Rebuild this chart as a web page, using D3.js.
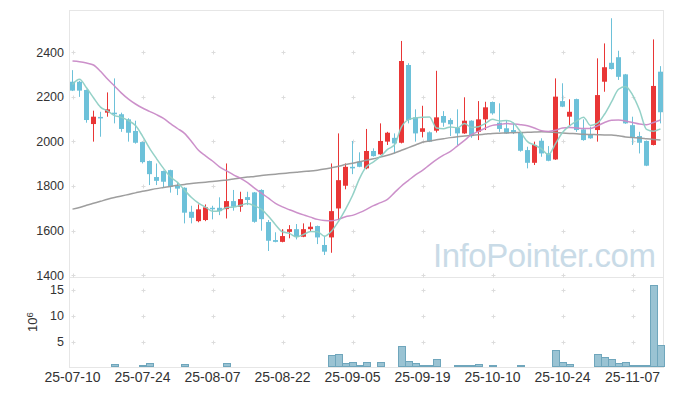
<!DOCTYPE html>
<html>
<head>
<meta charset="utf-8">
<script src="https://cdn.jsdelivr.net/npm/d3@7"></script>
<style>
  body { margin: 0; background: #fff; }
  svg { display: block; font-family: "Liberation Sans", Arial, sans-serif; }
</style>
</head>
<body>
<div id="chart"></div>
<script>
// trading days shown (yy-mm-dd)
var dates = [
  "25-07-10","25-07-11","25-07-14","25-07-15","25-07-16","25-07-17","25-07-18","25-07-21","25-07-22","25-07-23",
  "25-07-24","25-07-25","25-07-28","25-07-29","25-07-30","25-07-31","25-08-01","25-08-04","25-08-05","25-08-06",
  "25-08-07","25-08-08","25-08-11","25-08-12","25-08-13","25-08-14","25-08-18","25-08-19","25-08-20","25-08-21",
  "25-08-22","25-08-25","25-08-26","25-08-27","25-08-28","25-08-29","25-09-01","25-09-02","25-09-03","25-09-04",
  "25-09-05","25-09-08","25-09-09","25-09-10","25-09-11","25-09-12","25-09-15","25-09-16","25-09-17","25-09-18",
  "25-09-19","25-09-22","25-09-23","25-09-24","25-09-25","25-09-26","25-09-29","25-09-30","25-10-01","25-10-02",
  "25-10-10","25-10-13","25-10-14","25-10-15","25-10-16","25-10-17","25-10-20","25-10-21","25-10-22","25-10-23",
  "25-10-24","25-10-27","25-10-28","25-10-29","25-10-30","25-10-31","25-11-03","25-11-04","25-11-05","25-11-06",
  "25-11-07","25-11-10","25-11-11","25-11-12","25-11-13"
];

var open = [2268,2268,2231,2078,2110,2129,2129,2122,2099,2047,1997,1912,1840,1867,1871,1800,1792,1684,1642,1647,
  1702,1702,1696,1732,1707,1750,1771,1782,1638,1557,1549,1594,1606,1572,1606,1620,1535,1569,1699,1801,
  1886,1909,1879,1957,1942,1999,2016,1994,2343,2108,2043,2041,2048,2114,2096,2061,2036,2093,2043,2099,
  2177,2084,2059,2051,2041,1961,1904,2003,1946,1919,2181,2111,2190,2054,2029,2051,2268,2353,2378,2301,
  2073,2024,2002,1984,2313];
var high = [2320,2272,2233,2138,2133,2220,2283,2129,2104,2093,1999,1914,1901,1869,1873,1814,1794,1711,1717,1717,
  1711,1749,1901,1782,1774,1774,1773,1785,1647,1592,1606,1624,1629,1632,1637,1622,1576,1901,2036,1901,
  2002,1951,2056,1969,2081,2043,2036,2451,2351,2144,2160,2045,2317,2136,2104,2144,2198,2095,2181,2178,
  2179,2171,2096,2084,2043,1976,1999,2014,1979,2283,2261,2189,2192,2099,2066,2373,2440,2553,2407,2303,
  2111,2043,2004,2458,2338];
var low = [2226,2200,2084,1999,2021,2111,2081,2043,1999,1990,1901,1804,1804,1794,1770,1759,1632,1632,1637,1642,
  1650,1669,1654,1689,1684,1714,1635,1599,1508,1547,1547,1565,1560,1570,1594,1539,1490,1500,1647,1785,
  1853,1884,1875,1932,1940,1984,1946,1991,2081,1999,2018,1997,2040,2066,2024,1984,2034,2016,2006,2051,
  2120,2043,2034,2033,1954,1879,1894,1931,1911,1917,2154,2073,2043,2003,2012,1999,2223,2323,2276,2079,
  1984,1946,1889,1982,2081];
var close = [2228,2228,2096,2111,2106,2144,2122,2056,2039,1994,1907,1853,1823,1819,1796,1788,1680,1657,1695,1704,
  1697,1687,1732,1707,1741,1737,1639,1651,1554,1549,1575,1606,1572,1606,1617,1569,1505,1687,1826,1886,
  1879,1886,1957,1934,2002,2039,1991,2361,2096,2036,2059,1999,2108,2084,2077,2036,2093,2024,2099,2153,
  2126,2056,2036,2039,1958,1904,1984,1946,1913,2201,2156,2133,2051,2006,2014,2208,2333,2325,2290,2081,
  2016,1994,1891,2249,2131];

// volume, millions of shares
var volume = [0.05,0.05,0.05,0.05,0.05,0.05,0.45,0.05,0.05,0.05,0.35,0.6,0.05,0,0.05,0.05,0.4,0.05,0.05,0,
  0.05,0,0.6,0.05,0.05,0,0.05,0.05,0.05,0,0,0,0,0,0,0,0.05,2.2,2.5,0.6,
  0.8,0.35,0.8,0.05,0.8,0.05,0.05,3.9,1.0,0.6,0.35,0.35,1.5,0.05,0.05,0.3,0.3,0.3,0.55,0.05,
  0.35,0.05,0.05,0.05,0.3,0.05,0.05,0.05,0.05,3.2,0.8,0.4,0.05,0.05,0.05,2.5,1.75,1.4,0.65,0.8,
  0.35,0.35,0.35,15.8,4.25];

// moving averages as drawn
var ma5 = [2256,2279,2241,2196,2154,2137,2116,2108,2093,2071,2024,1970,1923,1879,1840,1816,1781,1748,1723,1705,
  1687,1688,1703,1705,1713,1721,1711,1695,1664,1626,1594,1587,1571,1582,1595,1594,1574,1597,1641,1695,
  1757,1833,1887,1908,1932,1964,1985,2065,2098,2105,2109,2110,2060,2057,2065,2061,2080,2063,2066,2081,
  2099,2092,2094,2082,2043,1999,1984,1966,1941,1990,2040,2070,2091,2109,2072,2082,2122,2177,2234,2247,
  2209,2141,2054,2046,2056];
var ma20 = [2361,2358,2352,2343,2315,2280,2249,2217,2190,2168,2150,2135,2120,2103,2080,2058,2036,2000,1960,1935,
  1912,1886,1868,1850,1834,1815,1790,1768,1745,1722,1706,1693,1681,1670,1660,1650,1645,1644,1650,1662,
  1668,1680,1695,1712,1725,1740,1770,1800,1825,1850,1870,1895,1918,1938,1955,1980,2005,2030,2045,2060,
  2072,2076,2080,2078,2075,2070,2060,2048,2045,2050,2060,2062,2060,2058,2058,2070,2085,2095,2096,2092,
  2085,2078,2075,2085,2096];
var ma60 = [1696,1703,1713,1722,1731,1740,1748,1755,1762,1769,1776,1782,1788,1793,1798,1803,1807,1811,1814,1817,
  1820,1823,1827,1831,1836,1840,1843,1847,1850,1853,1856,1859,1862,1865,1867,1871,1876,1882,1888,1896,
  1902,1909,1915,1922,1930,1938,1948,1960,1972,1984,1996,2002,2007,2012,2017,2021,2024,2027,2030,2033,
  2036,2037,2038,2039,2040,2041,2042,2043,2042,2040,2038,2036,2034,2032,2031,2030,2029,2029,2025,2020,
  2017,2015,2012,2009,2006];

var tickDates = ["25-07-10","25-07-24","25-08-07","25-08-22","25-09-05","25-09-19","25-10-10","25-10-24","25-11-07"];
var priceTicks = [1400,1600,1800,2000,2200,2400];
var volTicks = [5,10,15];

var width = 673, height = 396;
var plotL = 69, plotR = 664, priceTop = 10, priceBottom = 277.5, volBottom = 367.5;

var svg = d3.select("#chart").append("svg")
  .attr("width", width)
  .attr("height", height);

var x = d3.scaleBand().domain(dates).range([plotL, plotR]);
var cx = function(d) { return x(d) + x.bandwidth() / 2; };
var y = d3.scaleLinear().domain([1389, 2590]).range([priceBottom, priceTop]);
var vy = d3.scaleLinear().domain([0, 17.4]).range([volBottom, priceBottom]);

// panel frames
svg.append("rect")
  .attr("x", plotL + 0.5).attr("y", priceTop + 0.5)
  .attr("width", plotR - plotL - 1).attr("height", priceBottom - priceTop - 0.5)
  .attr("fill", "none").attr("stroke", "#e6e6e6");
svg.append("rect")
  .attr("x", plotL + 0.5).attr("y", priceBottom)
  .attr("width", plotR - plotL - 1).attr("height", volBottom - priceBottom)
  .attr("fill", "none").attr("stroke", "#e6e6e6");

// grid crosses
var gridX = tickDates.map(cx);
var gridY = priceTicks.map(y).concat(volTicks.map(vy));
var crosses = svg.append("g").attr("stroke", "#dcdcdc").attr("stroke-width", 1);
gridX.forEach(function(gx) {
  gridY.forEach(function(gy) {
    var px = Math.round(gx) + 0.5, py = Math.round(gy) + 0.5;
    crosses.append("line").attr("x1", px - 2).attr("x2", px + 2).attr("y1", py).attr("y2", py);
    crosses.append("line").attr("x1", px).attr("x2", px).attr("y1", py - 2).attr("y2", py + 2);
  });
});

// watermark
svg.append("text")
  .attr("x", 433).attr("y", 267)
  .attr("font-size", 33)
  .attr("textLength", 223)
  .attr("fill", "#c9dbe7")
  .text("InfoPointer.com");

// y labels
svg.append("g").selectAll("text").data(priceTicks).enter().append("text")
  .attr("x", 64).attr("y", function(d) { return y(d); })
  .attr("dy", "0.36em")
  .attr("text-anchor", "end")
  .attr("font-size", 12.5)
  .attr("fill", "#333")
  .text(function(d) { return d; });
svg.append("g").selectAll("text").data(volTicks).enter().append("text")
  .attr("x", 64).attr("y", function(d) { return vy(d); })
  .attr("dy", "0.36em")
  .attr("text-anchor", "end")
  .attr("font-size", 12.5)
  .attr("fill", "#333")
  .text(function(d) { return d; });

var unit = svg.append("text")
  .attr("transform", "translate(37,332) rotate(-90)")
  .attr("font-size", 13)
  .attr("fill", "#333");
unit.append("tspan").text("10");
unit.append("tspan").attr("dy", "-0.45em").attr("font-size", 9.5).text("6");

// x labels
svg.append("g").selectAll("text").data(tickDates).enter().append("text")
  .attr("x", cx).attr("y", 382)
  .attr("text-anchor", "middle")
  .attr("font-size", 14)
  .attr("fill", "#333")
  .text(function(d) { return d; });

// volume bars
svg.append("g").selectAll("rect").data(dates).enter()
  .filter(function(d, i) { return volume[i] > 0; })
  .append("rect")
  .attr("x", function(d) { return x(d) + 0.5; })
  .attr("width", x.bandwidth())
  .attr("y", function(d) { return Math.round(vy(volume[dates.indexOf(d)])) - 0.5; })
  .attr("height", function(d) { return volBottom - Math.round(vy(volume[dates.indexOf(d)])) + 0.5 - 1; })
  .attr("fill", "#9ac3d3")
  .attr("stroke", "#6fa6bc");

// candles
var up = "#e93636", down = "#6dc1d9";
var candle = svg.append("g").selectAll("g").data(dates).enter().append("g")
  .attr("class", "candle");
candle.append("line")
  .attr("x1", function(d) { return Math.floor(cx(d)) + 0.5; })
  .attr("x2", function(d) { return Math.floor(cx(d)) + 0.5; })
  .attr("y1", function(d, i) { return y(high[i]); })
  .attr("y2", function(d, i) { return y(low[i]); })
  .attr("stroke", function(d, i) { return close[i] >= open[i] ? up : down; })
  .attr("stroke-width", 1);
candle.append("rect")
  .attr("x", function(d) { return Math.floor(cx(d)) - 2; })
  .attr("width", 5)
  .attr("y", function(d, i) { return y(Math.max(open[i], close[i])); })
  .attr("height", function(d, i) { return Math.max(1.5, Math.abs(y(open[i]) - y(close[i]))); })
  .attr("fill", function(d, i) { return close[i] >= open[i] ? up : down; });

// moving average lines
var line = function(vals) {
  return d3.line()
    .x(function(d, i) { return Math.floor(cx(dates[i])) + 0.5; })
    .y(function(d) { return y(d); })
    .curve(d3.curveMonotoneX)(vals);
};
svg.append("path").attr("d", line(ma60)).attr("fill", "none")
  .attr("stroke", "#999").attr("stroke-width", 1.5).attr("stroke-opacity", 0.95);
svg.append("path").attr("d", line(ma20)).attr("fill", "none")
  .attr("stroke", "#c98ac7").attr("stroke-width", 1.5).attr("stroke-opacity", 0.95);
svg.append("path").attr("d", line(ma5)).attr("fill", "none")
  .attr("stroke", "#8ecfc4").attr("stroke-width", 1.5).attr("stroke-opacity", 0.95);
</script>
</body>
</html>
